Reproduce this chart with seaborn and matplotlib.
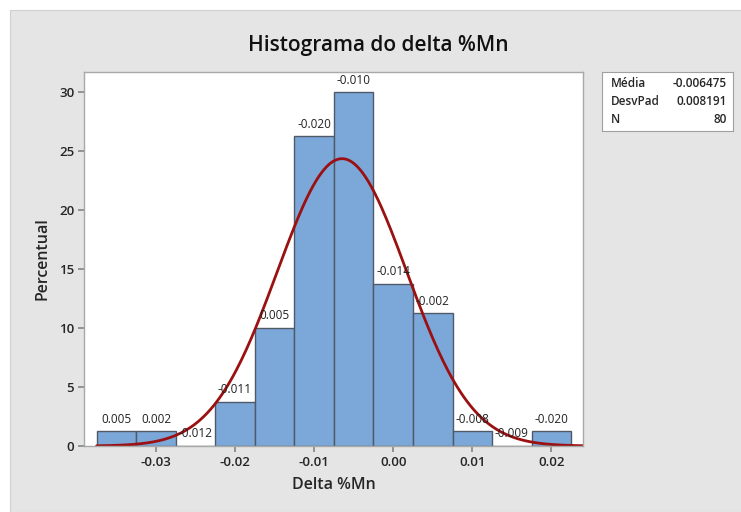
import numpy as np
import pandas as pd
import seaborn as sns
import matplotlib.pyplot as plt
from matplotlib.patches import Rectangle

# bin centres (Delta %Mn), percent of the 80 observations, labels above bars
bin_centers = [-0.035, -0.030, -0.025, -0.020, -0.015, -0.010,
               -0.005, 0.000, 0.005, 0.010, 0.015, 0.020]
percent = [1.25, 1.25, 0.0, 3.75, 10.0, 26.25, 30.0, 13.75, 11.25, 1.25, 0.0, 1.25]
bar_labels = ["0.005", "0.002", "-0.012", "-0.011", "0.005", "-0.020",
              "-0.010", "-0.014", "-0.002", "-0.008", "-0.009", "-0.020"]
bin_width = 0.005

media = -0.006475
desvpad = 0.008191
n_obs = 80

x_ticks = [-0.03, -0.02, -0.01, 0.00, 0.01, 0.02]
y_ticks = [0, 5, 10, 15, 20, 25, 30]

sns.set_theme(style="white")
plt.rcParams['font.family'] = ['Open Sans', 'DejaVu Sans']

df = pd.DataFrame({"delta": bin_centers, "pct": percent})
edges = [c - bin_width / 2 for c in bin_centers] + [bin_centers[-1] + bin_width / 2]

fig = plt.figure(figsize=(7.41, 5.12), dpi=100, facecolor="white")
fig.patches.append(Rectangle((10 / 741, 0), 1, 1 - 10 / 512, transform=fig.transFigure,
                             facecolor="#e5e5e5", edgecolor="#d0d0d0", lw=0.8, zorder=-10))
ax = fig.add_axes([84 / 741, 1 - 446 / 512, 499 / 741, 374 / 512])

sns.histplot(data=df, x="delta", weights="pct", bins=edges, ax=ax,
             color="#7ba7d9", alpha=1, edgecolor="#4f5a66", linewidth=1.0)

# fitted normal curve (percent per bin)
xs = np.linspace(edges[0], 0.0240, 300)
ys = 100 * bin_width * np.exp(-0.5 * ((xs - media) / desvpad) ** 2) / (desvpad * np.sqrt(2 * np.pi))
sns.lineplot(x=xs, y=ys, ax=ax, color="#9b1010", linewidth=2.0)

for xc, h, lab in zip(bin_centers, percent, bar_labels):
    ax.annotate(lab, (xc, h), xytext=(0, 4), textcoords="offset points",
                ha="center", va="bottom", fontsize=8.5, color="#222222")

ax.set_xlim(-0.0391, 0.0240)
ax.set_ylim(0, 31.7)
ax.set_xticks(x_ticks)
ax.set_xticklabels([f"{t:.2f}" for t in x_ticks])
ax.set_yticks(y_ticks)
ax.tick_params(axis="both", which="both", bottom=True, left=True, length=4,
               color="#888888", labelsize=9.5, pad=3)
for lab in ax.get_xticklabels() + ax.get_yticklabels():
    lab.set_fontweight("semibold")
for s in ax.spines.values():
    s.set_color("#a8a8a8")
    s.set_linewidth(1.0)
ax.set_facecolor("white")
ax.set_xlabel("Delta %Mn", fontsize=11.5, fontweight="semibold", labelpad=6)
ax.set_ylabel("Percentual", fontsize=11.5, fontweight="semibold", labelpad=6)

fig.text(378 / 741, 1 - 45 / 512, "Histograma do delta %Mn", ha="center", va="center",
         fontsize=15, fontweight="semibold", color="#111111")

# stats box
box = fig.add_axes([602 / 741, 1 - 131 / 512, 131 / 741, 59 / 512])
box.set_xticks([])
box.set_yticks([])
box.set_facecolor("white")
for s in box.spines.values():
    s.set_color("#a0a0a0")
    s.set_linewidth(0.8)
rows = [("Média", f"{media:.6f}"), ("DesvPad", f"{desvpad:.6f}"), ("N", f"{n_obs}")]
for i, (k, v) in enumerate(rows):
    yy = 0.8 - i * 0.3
    box.text(0.07, yy, k, ha="left", va="center", fontsize=8.5, fontweight="semibold",
             transform=box.transAxes)
    box.text(0.95, yy, v, ha="right", va="center", fontsize=8.5, fontweight="semibold",
             transform=box.transAxes)

fig.savefig("out.png", dpi=100)
